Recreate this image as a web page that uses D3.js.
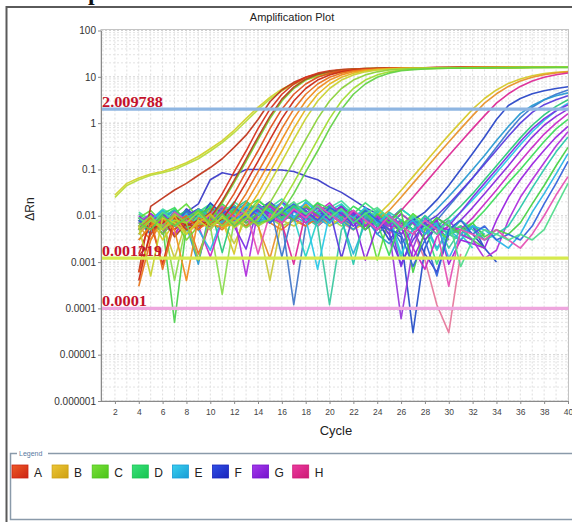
<!DOCTYPE html>
<html>
<head>
<meta charset="utf-8">
<script src="https://cdn.jsdelivr.net/npm/d3@7"></script>
<style>
  body { margin: 0; background: #fff; }
  svg { display: block; font-family: "Liberation Sans", Arial, sans-serif; }
</style>
</head>
<body>
<svg id="chart" width="572" height="522"></svg>
<script>
// ---- axis ticks ----
const cycleTicks = [2,4,6,8,10,12,14,16,18,20,22,24,26,28,30,32,34,36,38,40];
const deltaRnTicks = [100,10,1,0.1,0.01,0.001,0.0001,0.00001,0.000001];
const deltaRnTickLabels = ["100","10","1","0.1","0.01","0.001","0.0001","0.00001","0.000001"];

// ---- thresholds ----
const thresholdValues = [2.009788, 0.001219, 0.0001];
const thresholdLabels = ["2.009788", "0.001219", "0.0001"];
const thresholdColors = ["#8fb6e2", "#d6ea4e", "#eea6de"];

// ---- legend rows ----
const rowLabels = ["A","B","C","D","E","F","G","H"];
const rowColorsLight = ["#ee5a26","#ecc636","#78e038","#38e07a","#3ad0ee","#3050e6","#a638ec","#ec3aa0"];
const rowColorsDark  = ["#cc2414","#cea012","#4cc41a","#18c450","#189cd6","#1a24bc","#7414cc","#cc1a74"];

// ---- early amplifying wells (dRn per cycle) ----
const earlyColors = ["#d2d22a","#b8dc3c","#c0361c","#d8321e","#78d232","#b4401e","#e0501e","#cc2a16",
                     "#e8701e","#f08c1e","#e6b41e","#c8d232","#8cd23c","#a0dc32","#64d246"];
const earlyStart = [2,2,4,4,4,4,4,4,4,4,4,4,4,4,4];
const earlyValues = [
  [0.028,0.05,0.065,0.08,0.09,0.11,0.14,0.19,0.28,0.42,0.7,1.25,2.2,3.6,5.4,7.3,9.0,10.5,11.8,12.8,13.6,14.2,14.7,15.0,15.3,15.5,15.6,15.7,15.8,15.9,16,16,16.1,16.1,16.2,16.2,16.3,16.3,16.3],
  [0.025,0.045,0.06,0.075,0.085,0.1,0.13,0.17,0.25,0.38,0.62,1.1,1.95,3.3,5.0,6.9,8.6,10.2,11.5,12.6,13.4,14.1,14.6,15.0,15.2,15.4,15.5,15.6,15.7,15.8,15.9,15.9,16,16,16.1,16.1,16.2,16.2,16.2],
  [0.0006,0.016,0.024,0.036,0.05,0.075,0.11,0.17,0.3,0.55,1.2,2.9,5.2,7.6,9.8,11.5,12.8,13.7,14.3,14.8,15.1,15.3,15.5,15.6,15.7,15.8,15.9,15.9,16,16.1,16.1,16.2,16.2,16.3,16.3,16.3,16.3],
  [0.0015,0.007,0.0009,0.009,0.005,0.007,0.012,0.03,0.089,0.25,0.76,2.0,4.2,7.0,9.8,12,13.5,14.3,14.8,15.1,15.3,15.4,15.5,15.6,15.7,15.8,15.8,15.9,16,16,16.1,16.1,16.2,16.2,16.2,16.3,16.3],
  [0.005,0.009,0.004,0.008,0.003,0.006,0.0085,0.019,0.052,0.15,0.44,1.25,3.0,5.6,8.5,11,12.8,14.0,14.6,15.0,15.2,15.3,15.4,15.5,15.6,15.7,15.8,15.8,15.9,16,16,16.1,16.1,16.1,16.2,16.2,16.2],
  [0.003,0.006,0.009,0.0035,0.007,0.005,0.009,0.021,0.058,0.17,0.5,1.4,3.3,6.0,8.9,11.3,13.0,14.1,14.7,15.1,15.3,15.4,15.5,15.6,15.7,15.8,15.9,16,16,16.1,16.1,16.2,16.2,16.3,16.3,16.3,16.4],
  [0.0006,0.004,0.008,0.005,0.009,0.006,0.0063,0.012,0.03,0.089,0.25,0.76,2.0,4.2,7.0,9.8,12,13.5,14.3,14.8,15.1,15.3,15.4,15.5,15.6,15.7,15.8,15.9,15.9,16,16.1,16.1,16.2,16.2,16.2,16.3,16.3],
  [0.0004,0.005,0.007,0.01,0.006,0.008,0.006,0.0085,0.019,0.052,0.15,0.44,1.25,3.0,5.6,8.5,11,12.8,14.0,14.6,15.0,15.2,15.3,15.4,15.5,15.6,15.7,15.8,15.9,15.9,16,16,16.1,16.1,16.2,16.2,16.2],
  [0.005,0.009,0.0007,0.007,0.01,0.005,0.008,0.0063,0.012,0.03,0.089,0.25,0.76,2.0,4.2,7.0,9.8,12,13.5,14.3,14.8,15.1,15.3,15.4,15.5,15.6,15.7,15.8,15.9,15.9,16,16,16.1,16.1,16.2,16.2,16.2],
  [0.003,0.006,0.009,0.005,0.0004,0.009,0.007,0.0055,0.0085,0.019,0.052,0.15,0.44,1.25,3.0,5.6,8.5,11,12.8,14.0,14.6,15.0,15.2,15.3,15.4,15.5,15.6,15.7,15.8,15.8,15.9,16,16,16.1,16.1,16.1,16.2],
  [0.004,0.008,0.005,0.01,0.004,0.007,0.011,0.006,0.0063,0.012,0.03,0.089,0.25,0.76,2.0,4.2,7.0,9.8,12,13.5,14.3,14.8,15.1,15.3,15.4,15.5,15.6,15.7,15.8,15.8,15.9,16,16,16.1,16.1,16.1,16.2],
  [0.006,0.0005,0.009,0.007,0.004,0.008,0.005,0.01,0.0055,0.0085,0.019,0.052,0.15,0.44,1.25,3.0,5.6,8.5,11,12.8,14.0,14.6,15.0,15.2,15.3,15.4,15.5,15.6,15.7,15.8,15.9,15.9,16,16,16.1,16.1,16.2],
  [0.005,0.008,0.006,0.011,0.007,0.0011,0.01,0.006,0.009,0.0055,0.0085,0.019,0.052,0.15,0.44,1.25,3.0,5.6,8.5,11,12.8,14.0,14.6,15.0,15.2,15.3,15.4,15.5,15.6,15.7,15.8,15.8,15.9,16,16,16.1,16.1],
  [0.006,0.01,0.005,0.008,0.007,0.012,0.006,0.009,0.007,0.011,0.006,0.0085,0.019,0.052,0.15,0.44,1.25,3.0,5.6,8.5,11,12.8,14.0,14.6,15.0,15.2,15.3,15.4,15.5,15.6,15.7,15.7,15.8,15.9,15.9,16,16],
  [0.007,0.005,0.01,0.006,0.009,0.013,0.007,0.011,0.006,0.009,0.007,0.008,0.012,0.03,0.089,0.25,0.76,2.0,4.2,7.0,9.8,12,13.5,14.3,14.8,15.1,15.3,15.4,15.5,15.6,15.7,15.7,15.8,15.9,15.9,16,16]
];

// ---- late amplifying wells (cycle 4 to 40) ----
const lateColors = ["#d6c828","#e8922a","#dc2a96","#2a48c8","#3c78d0","#2a9ad2","#5a3cdc","#2ac87a","#2ac8e6",
                    "#7a32e6","#8a28dc","#c82ac8","#3cdc5a","#9a22e0","#b030dc","#2ac8aa","#48d248","#2ab4e6",
                    "#3464dc","#e652b4","#52dc8c"];
const lateStart = 4;
const lateValues = [
  [0.004,0.009,0.003,0.007,0.012,0.006,0.014,0.008,0.0015,0.017,0.009,0.013,0.007,0.015,0.01,0.012,0.006,0.009,0.005,0.007,0.01,0.018,0.035,0.07,0.14,0.28,0.55,1.05,2.0,3.4,5.2,7.2,9.0,10.5,11.7,12.5,13.0],
  [0.006,0.003,0.01,0.005,0.008,0.013,0.007,0.016,0.009,0.012,0.006,0.0012,0.011,0.008,0.018,0.009,0.012,0.007,0.01,0.006,0.008,0.013,0.025,0.05,0.1,0.2,0.39,0.76,1.45,2.7,4.3,6.2,8.1,9.8,11.1,12.1,12.8],
  [0.005,0.009,0.004,0.012,0.007,0.0011,0.008,0.013,0.006,0.011,0.016,0.009,0.007,0.0009,0.012,0.008,0.015,0.01,0.007,0.011,0.006,0.008,0.013,0.025,0.05,0.1,0.2,0.39,0.76,1.45,2.7,4.3,6.2,8.1,9.8,11.1,12.1],
  [0.008,0.004,0.011,0.006,0.014,0.008,0.019,0.011,0.008,0.015,0.012,0.018,0.01,0.014,0.009,0.016,0.011,0.007,0.012,0.005,0.008,0.003,0.006,0.008,0.012,0.022,0.045,0.1,0.22,0.5,1.2,2.4,3.4,4.3,5.0,5.6,6.1],
  [0.005,0.01,0.004,0.008,0.012,0.007,0.011,0.015,0.009,0.013,0.007,0.017,0.0013,0.014,0.008,0.012,0.016,0.009,0.006,0.011,0.004,0.007,0.0025,0.005,0.006,0.008,0.016,0.032,0.065,0.14,0.3,0.65,1.3,2.2,3.2,4.2,5.2],
  [0.007,0.004,0.009,0.013,0.006,0.0009,0.015,0.008,0.012,0.019,0.01,0.014,0.009,0.016,0.011,0.007,0.013,0.008,0.005,0.009,0.004,0.0025,0.006,0.007,0.008,0.014,0.026,0.05,0.1,0.2,0.42,0.85,1.6,2.4,3.2,3.9,4.5],
  [0.009,0.005,0.012,0.007,0.01,0.014,0.006,0.011,0.017,0.009,0.013,0.02,0.012,0.008,0.015,0.01,0.014,0.0012,0.011,0.006,0.009,0.004,0.0009,0.003,0.007,0.01,0.018,0.034,0.065,0.13,0.26,0.52,1.0,1.7,2.5,3.2,3.9],
  [0.006,0.011,0.005,0.009,0.013,0.008,0.016,0.0016,0.014,0.021,0.012,0.017,0.009,0.015,0.011,0.018,0.01,0.013,0.007,0.012,0.006,0.009,0.004,0.007,0.003,0.006,0.009,0.016,0.03,0.06,0.12,0.24,0.48,0.9,1.5,2.3,3.2],
  [0.004,0.008,0.012,0.006,0.01,0.005,0.013,0.009,0.016,0.011,0.008,0.014,0.019,0.012,0.009,0.0007,0.011,0.007,0.013,0.008,0.005,0.01,0.0015,0.005,0.008,0.005,0.007,0.012,0.022,0.042,0.085,0.17,0.34,0.65,1.15,1.85,2.7],
  [0.005,0.011,0.007,0.004,0.009,0.013,0.008,0.012,0.006,0.0019,0.016,0.009,0.02,0.013,0.01,0.015,0.008,0.012,0.006,0.01,0.005,0.008,0.0008,0.004,0.007,0.004,0.006,0.012,0.025,0.05,0.1,0.2,0.4,0.75,1.25,1.85,2.5],
  [0.01,0.006,0.012,0.005,0.008,0.014,0.01,0.007,0.013,0.009,0.018,0.011,0.015,0.008,0.013,0.007,0.011,0.016,0.009,0.0011,0.006,0.01,0.004,0.008,0.003,0.006,0.005,0.008,0.015,0.03,0.06,0.12,0.25,0.5,0.9,1.4,2.0],
  [0.006,0.01,0.007,0.004,0.009,0.006,0.0013,0.008,0.013,0.007,0.011,0.016,0.009,0.014,0.007,0.012,0.019,0.01,0.013,0.006,0.01,0.005,0.008,0.002,0.0007,0.0035,0.006,0.005,0.009,0.018,0.036,0.075,0.15,0.3,0.58,1.0,1.6],
  [0.008,0.005,0.011,0.015,0.007,0.013,0.009,0.018,0.011,0.016,0.022,0.013,0.009,0.017,0.011,0.019,0.014,0.009,0.016,0.011,0.007,0.0014,0.008,0.005,0.01,0.006,0.004,0.005,0.007,0.013,0.026,0.052,0.1,0.2,0.4,0.75,1.2],
  [0.005,0.009,0.006,0.012,0.008,0.005,0.01,0.007,0.013,0.008,0.015,0.011,0.007,0.013,0.009,0.016,0.011,0.007,0.012,0.008,0.005,0.01,0.006,0.0012,0.004,0.008,0.0009,0.003,0.0025,0.002,0.008,0.025,0.06,0.13,0.26,0.5,0.85],
  [0.007,0.011,0.006,0.009,0.005,0.012,0.008,0.014,0.01,0.0005,0.013,0.017,0.011,0.008,0.015,0.01,0.007,0.012,0.008,0.005,0.01,0.006,0.011,0.007,0.004,0.009,0.006,0.004,0.003,0.0012,0.0018,0.008,0.025,0.06,0.14,0.32,0.65],
  [0.006,0.009,0.005,0.012,0.008,0.014,0.01,0.007,0.013,0.009,0.017,0.012,0.008,0.015,0.011,0.007,0.013,0.009,0.0009,0.01,0.006,0.012,0.008,0.005,0.01,0.006,0.004,0.008,0.005,0.003,0.004,0.006,0.015,0.04,0.1,0.24,0.5],
  [0.009,0.006,0.012,0.008,0.005,0.011,0.015,0.008,0.013,0.007,0.011,0.018,0.012,0.008,0.016,0.011,0.007,0.014,0.009,0.005,0.011,0.007,0.013,0.0006,0.005,0.009,0.006,0.004,0.007,0.0035,0.005,0.004,0.007,0.018,0.045,0.12,0.3],
  [0.005,0.008,0.013,0.007,0.011,0.005,0.0018,0.009,0.007,0.016,0.011,0.007,0.014,0.009,0.02,0.012,0.007,0.013,0.009,0.015,0.007,0.011,0.005,0.008,0.004,0.007,0.0012,0.004,0.006,0.005,0.003,0.002,0.004,0.012,0.03,0.08,0.22],
  [0.008,0.005,0.01,0.006,0.013,0.009,0.005,0.011,0.016,0.009,0.014,0.007,0.012,0.018,0.013,0.008,0.015,0.011,0.007,0.013,0.008,0.005,0.004,0.0008,0.003,0.0005,0.005,0.008,0.004,0.006,0.003,0.004,0.003,0.006,0.018,0.05,0.15],
  [0.006,0.009,0.005,0.012,0.008,0.006,0.011,0.016,0.009,0.013,0.0015,0.011,0.007,0.014,0.009,0.017,0.011,0.007,0.013,0.008,0.005,0.01,0.006,0.004,0.008,0.005,0.0003,0.005,0.004,0.003,0.005,0.003,0.002,0.004,0.01,0.028,0.07],
  [0.009,0.006,0.012,0.008,0.005,0.01,0.007,0.013,0.017,0.011,0.015,0.008,0.013,0.02,0.011,0.016,0.009,0.014,0.007,0.011,0.015,0.009,0.005,0.01,0.006,0.004,0.008,0.0008,0.003,0.005,0.004,0.003,0.004,0.003,0.005,0.016,0.05]
];

// ---- wells without amplification ----
const flatColors = ["#3c3cc8","#2850c8","#e6789b","#9a3cdc","#50d250","#3cc8a0","#4678c8","#e8781e",
                    "#8cdc50","#c8c83c","#28b4dc","#3cdc78","#46dca0","#28d2c8","#64dc3c"];
const flatStart = [4,4,4,4,4,4,4,4,4,4,5,4,4,5,4];
const flatValues = [
  [0.005,0.007,0.006,0.009,0.012,0.018,0.06,0.085,0.075,0.1,0.1,0.098,0.097,0.09,0.072,0.06,0.042,0.032,0.022,0.015,0.011,0.009,0.007,0.005,0.0015,0.0006,0.004,0.006,0.004,0.002],
  [0.008,0.005,0.011,0.006,0.013,0.008,0.015,0.011,0.007,0.013,0.017,0.01,0.014,0.008,0.012,0.006,0.01,0.016,0.009,0.013,0.006,0.005,0.0035,0.00003,0.002,0.007,0.004,0.003,0.006,0.002,0.001],
  [0.006,0.011,0.007,0.004,0.009,0.006,0.012,0.008,0.014,0.01,0.006,0.012,0.008,0.015,0.01,0.006,0.011,0.007,0.005,0.009,0.006,0.004,0.008,0.005,0.0011,0.00012,0.00003,0.0015],
  [0.009,0.006,0.012,0.007,0.014,0.009,0.006,0.012,0.008,0.016,0.011,0.007,0.014,0.009,0.006,0.012,0.008,0.015,0.009,0.006,0.011,0.005,0.00006,0.002,0.009,0.005,0.008,0.004,0.006,0.003],
  [0.004,0.009,0.006,0.00005,0.006,0.011,0.007,0.014,0.009,0.006,0.012,0.018,0.011,0.008,0.015,0.01,0.017,0.012,0.008,0.014,0.009,0.006,0.011,0.007,0.005,0.009,0.006,0.004,0.003,0.002],
  [0.008,0.005,0.011,0.006,0.01,0.014,0.008,0.012,0.006,0.01,0.016,0.011,0.007,0.013,0.009,0.006,0.00012,0.005,0.011,0.007,0.013,0.009,0.006,0.01,0.004,0.007,0.002,0.005,0.003],
  [0.006,0.01,0.005,0.012,0.008,0.006,0.011,0.007,0.014,0.009,0.006,0.012,0.008,0.00012,0.006,0.011,0.007,0.013,0.009,0.006,0.01,0.007,0.005,0.009,0.004,0.006,0.003],
  [0.0003,0.003,0.008,0.006,0.009,0.0015,0.007,0.005,0.008,0.006,0.009,0.007,0.005,0.008,0.006,0.009,0.007],
  [0.008,0.005,0.009,0.0004,0.007,0.01,0.006,0.0002,0.008,0.01,0.007,0.009,0.006,0.008,0.011,0.007,0.009,0.006,0.008,0.01,0.007,0.005,0.006],
  [0.006,0.009,0.007,0.0012,0.008,0.006,0.01,0.008,0.0025,0.009,0.007,0.0004,0.008,0.006,0.009],
  [0.006,0.008,0.005,0.009,0.007,0.01,0.008,0.006,0.009,0.007,0.011,0.008,0.01,0.007,0.009,0.006,0.008,0.0015,0.007,0.009,0.006,0.008,0.005,0.007,0.002,0.005,0.003,0.006,0.004],
  [0.011,0.007,0.009,0.014,0.008,0.012,0.018,0.01,0.015,0.008,0.013,0.02,0.011,0.016,0.022,0.013,0.009,0.017,0.011,0.019,0.012,0.008,0.014,0.009,0.006,0.0009,0.0045,0.006,0.003,0.004],
  [0.012,0.008,0.014,0.01,0.006,0.012,0.017,0.01,0.02,0.013,0.008,0.015,0.023,0.013,0.018,0.01,0.015,0.021,0.012,0.008,0.014,0.009,0.0012,0.011,0.005,0.008,0.004,0.003],
  [0.008,0.013,0.009,0.006,0.012,0.008,0.016,0.01,0.014,0.006,0.012,0.019,0.009,0.0013,0.008,0.013,0.018,0.01,0.006,0.012,0.008,0.014,0.009,0.006,0.0018,0.005,0.004,0.002],
  [0.009,0.013,0.007,0.011,0.018,0.009,0.014,0.007,0.016,0.011,0.021,0.014,0.009,0.017,0.011,0.019,0.009,0.014,0.007,0.011,0.0011,0.009,0.006,0.011,0.007,0.005,0.003]
];

// ---- drawing ----
const svg = d3.select("#chart");
const x = d3.scaleLinear().domain([1, 40]).range([103, 568]);
const y = d3.scaleLog().domain([1e-6, 100]).range([401, 30.5]);
const plot = { left: 101, right: 568.5, top: 29.5, bottom: 401 };

// heading text running off the top edge
svg.append("text").attr("x", 28).attr("y", -0.5)
  .attr("font-family", "'Liberation Serif', 'Times New Roman', serif")
  .attr("font-weight", "bold").attr("font-size", 24).attr("fill", "#111")
  .text("Example");

// outer window frame
svg.append("path").attr("d", "M6.5,522 V7 H572")
  .attr("fill", "none").attr("stroke", "#5a5a5a").attr("stroke-width", 2);

// title
svg.append("text").attr("x", 292).attr("y", 21).attr("text-anchor", "middle")
  .attr("font-size", 11).attr("fill", "#222").text("Amplification Plot");

// grid
const grid = svg.append("g");
grid.selectAll("line.v").data(d3.range(1, 41)).join("line")
  .attr("x1", d => x(d)).attr("x2", d => x(d))
  .attr("y1", plot.top).attr("y2", plot.bottom)
  .attr("stroke", "#dedede").attr("stroke-dasharray", "2,2");
grid.selectAll("line.h").data(y.ticks()).join("line")
  .attr("x1", plot.left).attr("x2", plot.right)
  .attr("y1", d => y(d)).attr("y2", d => y(d))
  .attr("stroke", d => deltaRnTicks.includes(d) ? "#d0d0d0" : "#e2e2e2")
  .attr("stroke-dasharray", "2,2");
svg.append("rect").attr("x", plot.left).attr("y", plot.top)
  .attr("width", plot.right - plot.left).attr("height", plot.bottom - plot.top)
  .attr("fill", "none").attr("stroke", "#c4c4c4");

// curves
svg.append("clipPath").attr("id", "plotClip").append("rect")
  .attr("x", plot.left).attr("y", plot.top)
  .attr("width", plot.right - plot.left).attr("height", plot.bottom - plot.top);

const wells = [];
flatValues.forEach((vals, i) => wells.push({ color: flatColors[i], pts: vals.map((v, j) => [flatStart[i] + j, v]) }));
lateValues.forEach((vals, i) => wells.push({ color: lateColors[i], pts: vals.map((v, j) => [lateStart + j, v]) }));
earlyValues.forEach((vals, i) => wells.push({ color: earlyColors[i], pts: vals.map((v, j) => [earlyStart[i] + j, v]) }));

const line = d3.line().defined(p => p[1] > 0).x(p => x(p[0])).y(p => y(p[1]));
svg.append("g").attr("clip-path", "url(#plotClip)")
  .selectAll("path").data(wells).join("path")
  .attr("d", d => line(d.pts))
  .attr("fill", "none").attr("stroke", d => d.color)
  .attr("stroke-width", 1.6).attr("stroke-linejoin", "round").attr("opacity", 0.95);

// threshold lines and their values
const th = svg.append("g");
th.selectAll("line").data(thresholdValues).join("line")
  .attr("x1", plot.left).attr("x2", plot.right)
  .attr("y1", d => y(d)).attr("y2", d => y(d))
  .attr("stroke", (d, i) => thresholdColors[i]).attr("stroke-width", 3.2);
const labelWidths = [61, 60, 45];
th.selectAll("text").data(thresholdValues).join("text")
  .attr("x", 102).attr("y", d => y(d) - 2.5)
  .attr("font-family", "'Liberation Serif', 'Times New Roman', serif")
  .attr("font-weight", "bold").attr("font-size", 14).attr("fill", "#c4122c")
  .attr("textLength", (d, i) => labelWidths[i]).attr("lengthAdjust", "spacingAndGlyphs")
  .text((d, i) => thresholdLabels[i]);

// axes
const yAxis = svg.append("g").attr("transform", `translate(${plot.left},0)`)
  .call(d3.axisLeft(y).tickValues(deltaRnTicks).tickFormat((d, i) => deltaRnTickLabels[i]).tickSize(3).tickSizeOuter(0));
yAxis.select(".domain").attr("stroke", "#8a8a8a");
yAxis.selectAll(".tick line").attr("stroke", "#8a8a8a");
yAxis.selectAll(".tick text").attr("font-size", 10).attr("fill", "#333").attr("font-family", "'Liberation Sans', Arial, sans-serif").attr("x", -5);

const xAxis = svg.append("g").attr("transform", `translate(0,${plot.bottom})`)
  .call(d3.axisBottom(x).tickValues(cycleTicks).tickSize(3).tickSizeOuter(0));
xAxis.select(".domain").attr("stroke", "#8a8a8a").attr("d", `M${plot.left},0.5H${plot.right}`);
xAxis.selectAll(".tick line").attr("stroke", "#8a8a8a");
xAxis.selectAll(".tick text").attr("font-size", 8.5).attr("fill", "#444").attr("font-family", "'Liberation Sans', Arial, sans-serif").attr("dy", "0.9em");

svg.append("text").attr("transform", "translate(34,209) rotate(-90)")
  .attr("text-anchor", "middle").attr("font-size", 12).attr("fill", "#222").text("ΔRn");
svg.append("text").attr("x", 336).attr("y", 435).attr("text-anchor", "middle")
  .attr("font-size", 13).attr("fill", "#222").text("Cycle");

// legend
const defs = svg.append("defs");
rowLabels.forEach((r, i) => {
  const g = defs.append("linearGradient").attr("id", "row" + r).attr("x1", 0).attr("x2", 1).attr("y1", 0).attr("y2", 1);
  g.append("stop").attr("offset", "0%").attr("stop-color", rowColorsLight[i]);
  g.append("stop").attr("offset", "100%").attr("stop-color", rowColorsDark[i]);
});
svg.append("path").attr("d", "M17,453.5 H10.5 V519.5 H572 M48,453.5 H572")
  .attr("fill", "none").attr("stroke", "#8a9aaa").attr("stroke-width", 1.5);
svg.append("text").attr("x", 19).attr("y", 456).attr("font-size", 7).attr("fill", "#5878a0").text("Legend");
const items = svg.append("g").selectAll("g").data(rowLabels).join("g")
  .attr("transform", (d, i) => `translate(${12 + i * 40.1},465)`);
items.append("rect").attr("width", 16).attr("height", 13)
  .attr("fill", d => `url(#row${d})`).attr("stroke", (d, i) => rowColorsDark[i]).attr("stroke-width", 0.8);
items.append("text").attr("x", 22).attr("y", 12).attr("font-size", 12).attr("fill", "#222").text(d => d);
</script>
</body>
</html>
